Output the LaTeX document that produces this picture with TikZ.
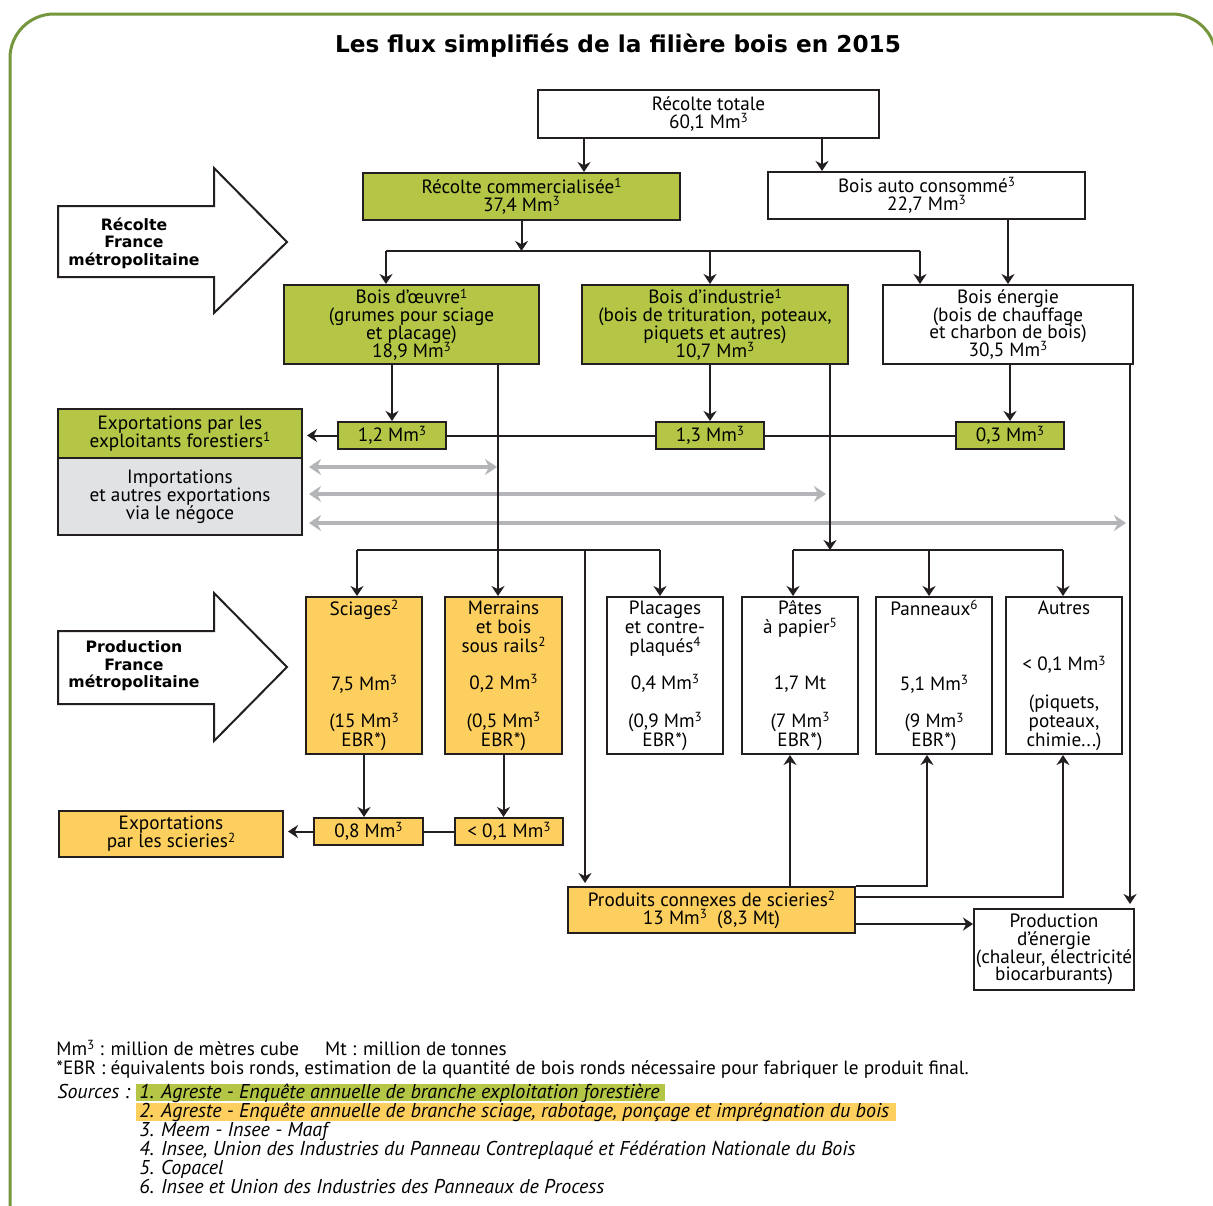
\documentclass[tikz,border=0pt]{standalone}
\usepackage{fontspec}
\setmainfont{PT Sans}
\newfontfamily\grasfont{DejaVu Sans}
\usetikzlibrary{arrows.meta}
\definecolor{vert}{RGB}{181,197,69}
\definecolor{orange}{RGB}{253,207,94}
\definecolor{grisclair}{RGB}{225,226,228}
\definecolor{grisfleche}{RGB}{180,181,184}
\definecolor{cadre}{RGB}{118,150,62}
\definecolor{trait}{RGB}{35,31,32}
\newcommand{\expo}[1]{\raisebox{0.6ex}{\fontsize{6.6}{6.6}\selectfont #1}}
\newcommand{\mmc}{Mm\expo{3}}
\newcommand{\resserre}{\lineskiplimit=-8pt\relax}
\begin{document}
\begin{tikzpicture}[x=0.5pt,y=-0.5pt,font=\fontsize{9.6}{8.9}\selectfont\resserre]
      \tikzstyle{boite}=[draw=trait,line width=1pt,align=center,inner sep=0pt]
      \tikzstyle{verte}=[boite,fill=vert]
      \tikzstyle{jaune}=[boite,fill=orange]
      \tikzstyle{haute}=[boite,minimum width=58pt,minimum height=78.5pt,
                         font=\fontsize{9.6}{9.4}\selectfont\resserre]
      \tikzstyle{fl}=[draw=trait,line width=1pt,
                      -{Stealth[length=5pt,width=6.5pt,inset=1.6pt]}]
      \tikzstyle{gr}=[draw=grisfleche,line width=1.8pt,shorten <=3pt,
                      {Stealth[length=6pt,width=8pt,inset=2pt]}-{Stealth[length=6pt,width=8pt,inset=2pt]}]
      \tikzstyle{grosse}=[draw=trait,line width=1pt,fill=white]
      \tikzstyle{gras}=[align=center,font=\grasfont\bfseries\fontsize{7.85}{8.75}\selectfont]
      \tikzstyle{legende}=[anchor=base west,inner sep=0pt,font=\fontsize{9.6}{10}\selectfont]
      \tikzstyle{source}=[anchor=base west,inner sep=0pt,font=\fontsize{10}{10}\selectfont\itshape]

      \useasboundingbox (0,0) rectangle (1213,1205);
      \fill[white] (0,0) rectangle (1213,1205);
      \draw[cadre,line width=1.5pt,rounded corners=22pt] (10,1220) -- (10,14) -- (1216,14) -- (1216,1220);

      \node (titre) [font=\grasfont\bfseries\fontsize{11.6}{13}\selectfont] at (618,46) {Les flux simplifiés de la filière bois en 2015};

      \draw[grosse] (58,206) -- (214,206) -- (214,168) -- (287,242) -- (214,313) -- (214,277) -- (58,277) -- cycle;
      \node (rfm) [gras] at (134,243) {Récolte\\France\\métropolitaine};
      \draw[grosse] (58,631) -- (214,631) -- (214,593) -- (287,667) -- (214,741) -- (214,704) -- (58,704) -- cycle;
      \node (pfm) [gras] at (134,666) {Production\\France\\métropolitaine};

      \node (tot) [boite,minimum width=170.5pt,minimum height=24pt] at (708.5,114) {Récolte totale\\60,1 \mmc};
      \node (com) [verte,minimum width=158.5pt,minimum height=23.5pt] at (521.5,196.5) {Récolte commercialisée\expo{1}\\37,4 \mmc};
      \node (auto) [boite,minimum width=158.5pt,minimum height=23.5pt] at (926.5,195.5) {Bois auto consommé\expo{3}\\22,7 \mmc};
      \node (oeu) [verte,minimum width=127.5pt,minimum height=39.5pt] at (411.5,324.5) {Bois d'œuvre\expo{1}\\(grumes pour sciage\\et placage)\\18,9 \mmc};
      \node (ind) [verte,minimum width=133pt,minimum height=39.5pt] at (715,324.5) {Bois d'industrie\expo{1}\\(bois de trituration, poteaux,\\piquets et autres)\\10,7 \mmc};
      \node (ene) [boite,minimum width=125pt,minimum height=39.5pt] at (1008,324.5) {Bois énergie\\(bois de chauffage\\et charbon de bois)\\30,5 \mmc};

      \node (e12) [verte,minimum width=54pt,minimum height=13.5pt] at (392,435.5) {1,2 \mmc};
      \node (e13) [verte,minimum width=54pt,minimum height=13.5pt] at (710,435.5) {1,3 \mmc};
      \node (e03) [verte,minimum width=54pt,minimum height=13.5pt] at (1010,435.5) {0,3 \mmc};
      \node (expf) [verte,minimum width=122pt,minimum height=24.5pt] at (180,433.5) {Exportations par les\\exploitants forestiers\expo{1}};
      \node (imp) [boite,fill=grisclair,minimum width=122pt,minimum height=38.5pt] at (180,496.5) {Importations\\et autres exportations\\via le négoce};

      \node (sci) [haute,fill=orange] at (364,675.5) {Sciages\expo{2}\\[28.2pt]7,5 \mmc\\[9.4pt](15 \mmc\\EBR*)};
      \node (mer) [haute,fill=orange,minimum width=58.5pt] at (503.5,675.5) {Merrains\\et bois\\sous rails\expo{2}\\[9.4pt]0,2 \mmc\\[9.4pt](0,5 \mmc\\EBR*)};
      \node (pla) [haute] at (665,675.5) {Placages\\et contre-\\plaqués\expo{4}\\[9.4pt]0,4 \mmc\\[9.4pt](0,9 \mmc\\EBR*)};
      \node (pat) [haute] at (800,675.5) {Pâtes\\à papier\expo{5}\\[18.8pt]1,7 Mt\\[9.4pt](7 \mmc\\EBR*)};
      \node (pan) [haute] at (934,675.5) {Panneaux\expo{6}\\[28.2pt]5,1 \mmc\\[9.4pt](9 \mmc\\EBR*)};
      \node (aut) [haute] at (1064,675.5) {Autres\\[18.8pt]< 0,1 \mmc\\[9.4pt](piquets,\\poteaux,\\chimie...)};

      \node (s08) [jaune,minimum width=54.5pt,minimum height=13.5pt] at (368.5,831.5) {0,8 \mmc};
      \node (s01) [jaune,minimum width=54pt,minimum height=13.5pt] at (509,831.5) {< 0,1 \mmc};
      \node (exps) [jaune,minimum width=112pt,minimum height=23pt] at (171,834) {Exportations\\par les scieries\expo{2}};
      \node (pcs) [jaune,minimum width=143.5pt,minimum height=23pt] at (711.5,910) {Produits connexes de scieries\expo{2}\\13 \mmc\ \ (8,3 Mt)};
      \node (pen) [boite,minimum width=80pt,minimum height=40.5pt] at (1054,949.5) {Production\\d'énergie\\(chaleur, électricité\\biocarburants)};

      \coordinate (g1) at (497,467);
      \coordinate (g2) at (826,494);
      \coordinate (g3) at (1126,523);
      \draw[gr] (imp.east |- g1) -- (g1);
      \draw[gr] (imp.east |- g2) -- (g2);
      \draw[gr] (imp.east |- g3) -- (g3);

      \coordinate (c1) at (584,0);
      \coordinate (c2) at (822,0);
      \draw[fl] (tot.south -| c1) -- (com.north -| c1);
      \draw[fl] (tot.south -| c2) -- (auto.north -| c2);
      \coordinate (r1) at (386,251);
      \coordinate (r2) at (920,251);
      \draw[trait,line width=1pt] (r1) -- (r2);
      \draw[fl] (com.south) -- (com.south |- r1);
      \draw[fl] (r1) -- (r1 |- oeu.north);
      \draw[fl] (e13 |- r1) -- (e13 |- ind.north);
      \draw[fl] (r2) -- (r2 |- ene.north);
      \draw[fl] (auto.south -| ene.north) -- (ene.north);

      \draw[fl] (oeu.south -| e12) -- (e12.north);
      \draw[fl] (ind.south -| e13) -- (e13.north);
      \draw[fl] (ene.south -| e03) -- (e03.north);
      \draw[trait,line width=1pt] (e03.west) -- (e13.east);
      \draw[trait,line width=1pt] (e13.west) -- (e12.east);
      \draw[fl,shorten >=2pt] (e12.west) -- (expf.east |- e12.west);

      \coordinate (m) at (498,0);
      \draw[fl] (oeu.south -| m) -- (mer.north -| m);
      \coordinate (s1) at (357,550);
      \coordinate (s2) at (660,550);
      \coordinate (s3) at (585,550);
      \draw[trait,line width=1pt] (s1) -- (s2);
      \draw[fl] (s1) -- (s1 |- sci.north);
      \draw[fl] (s2) -- (s2 |- pla.north);
      \draw[fl,shorten >=1.5pt] (s3) -- (s3 |- pcs.north);
      \coordinate (p1) at (793,550);
      \coordinate (p2) at (1063,550);
      \coordinate (p3) at (929,550);
      \coordinate (i1) at (830,0);
      \draw[trait,line width=1pt] (p1) -- (p2);
      \draw[fl] (ind.south -| i1) -- (p1 -| i1);
      \draw[fl] (p1) -- (p1 |- pat.north);
      \draw[fl] (p3) -- (p3 |- pan.north);
      \draw[fl] (p2) -- (p2 |- aut.north);
      \coordinate (n1) at (1130,0);
      \draw[fl,shorten >=2pt] (ene.south -| n1) -- (pen.north -| n1);

      \draw[fl] (sci.south) -- (sci.south |- s08.north);
      \draw[fl] (mer.south) -- (mer.south |- s01.north);
      \draw[trait,line width=1pt] (s01.west) -- (s08.east);
      \draw[fl,shorten >=2pt] (s08.west) -- (exps.east |- s08.west);

      \coordinate (q1) at (790,0);
      \coordinate (q2) at (927,0);
      \coordinate (q3) at (0,897);
      \coordinate (q4) at (0,924);
      \draw[fl] (pcs.north -| q1) -- (pat.south -| q1);
      \draw[fl] (pcs.north east) -| (pan.south -| q2);
      \draw[fl] (pcs.east |- q3) -| (aut.south -| p2);
      \draw[fl] (pcs.east |- q4) -- (pen.west |- q4);

      \fill[vert] (136,1084) rectangle (665,1101);
      \fill[orange] (136,1103) rectangle (896,1121);
      \node (leg1) [legende] at (56,1055) {\mmc\ : million de mètres cube\hspace{13pt}Mt : million de tonnes};
      \node (leg2) [legende] at (56,1074) {*EBR : équivalents bois ronds, estimation de la quantité de bois ronds nécessaire pour fabriquer le produit final.};
      \node (src) [source] at (57,1098) {Sources :};
      \node (src1) [source] at (139,1098) {1. Agreste - Enquête annuelle de branche exploitation forestière};
      \node (src2) [source] at (139,1117) {2. Agreste - Enquête annuelle de branche sciage, rabotage, ponçage et imprégnation du bois};
      \node (src3) [source] at (139,1136) {3. Meem - Insee - Maaf};
      \node (src4) [source] at (139,1155) {4. Insee, Union des Industries du Panneau Contreplaqué et Fédération Nationale du Bois};
      \node (src5) [source] at (139,1174) {5. Copacel};
      \node (src6) [source] at (139,1193) {6. Insee et Union des Industries des Panneaux de Process};
\end{tikzpicture}
\end{document}
